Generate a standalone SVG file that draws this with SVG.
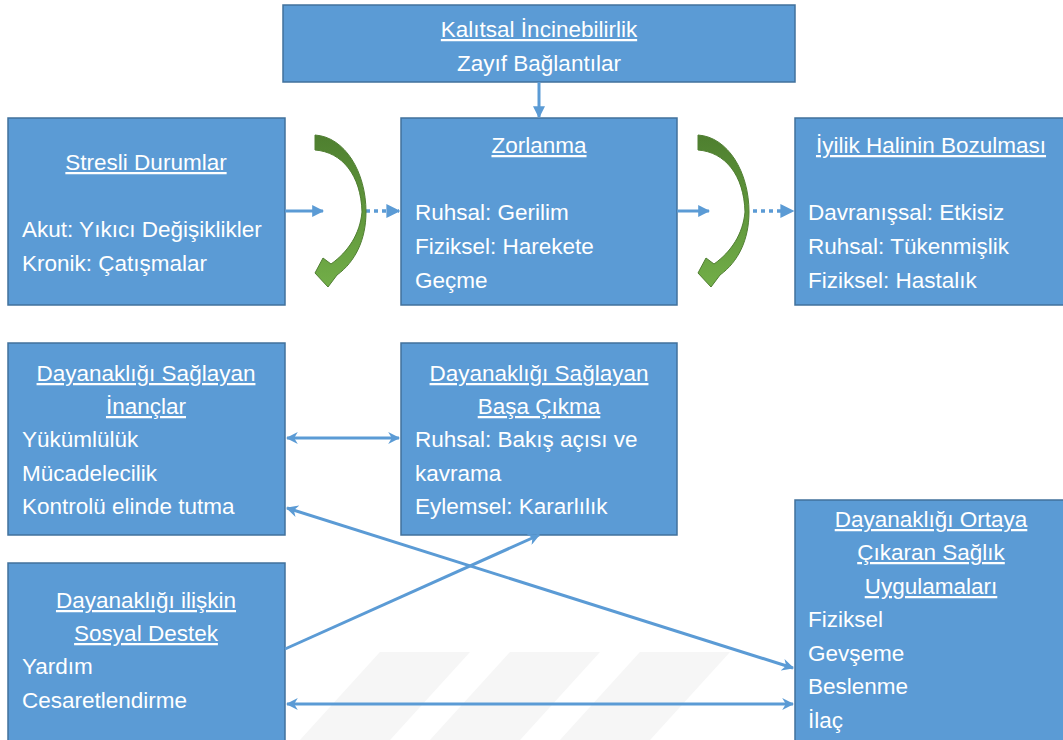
<svg xmlns="http://www.w3.org/2000/svg" width="1063" height="740" viewBox="0 0 1063 740">
<defs>
<style>
.box{fill:#5B9BD5;stroke:#41719C;stroke-width:1.5}
.t{font-family:"Liberation Sans",Arial,sans-serif;font-size:22.5px;fill:#fff}
.c{text-anchor:middle}
.u{text-decoration:underline}
.ln{stroke:#5B9BD5;stroke-width:3;fill:none}
.dot{stroke:#5B9BD5;stroke-width:3.5;fill:none;stroke-dasharray:4 4}
</style>
<marker id="ah" viewBox="0 0 10 10" refX="9" refY="5" markerWidth="4" markerHeight="4" orient="auto-start-reverse" markerUnits="strokeWidth">
<path d="M0,0 L10,5 L0,10 L3,5 z" fill="#5B9BD5"/>
</marker>
<marker id="tri" viewBox="0 0 10 10" refX="9" refY="5" markerWidth="4" markerHeight="4" orient="auto" markerUnits="strokeWidth">
<path d="M0,0 L10,5 L0,10 z" fill="#5B9BD5"/>
</marker>
<linearGradient id="gr" x1="0" y1="0" x2="0" y2="1">
<stop offset="0" stop-color="#4E7F2F"/>
<stop offset="1" stop-color="#72AE48"/>
</linearGradient>
<path id="curv" d="M315,135 C345,137 366,172 366,212 C366,240 355,262 337,275 L328,287 L315,273 L323,258 L331,264 C348,252 360,234 362,212 C361,175 342,152 315,150 Z" fill="url(#gr)" stroke="#507E32" stroke-width="1"/>
</defs>
<rect width="1063" height="740" fill="#fff"/>
<g id="watermark" fill="#000" opacity="0.03">
<polygon points="380,652 470,652 390,740 300,740"/>
<polygon points="510,652 600,652 520,740 430,740"/>
<polygon points="640,652 730,652 650,740 560,740"/>
</g>

<g id="n-kalitsal">
<rect class="box" x="283" y="5" width="512" height="77"/>
<text class="t c u" x="539" y="37">Kalıtsal İncinebilirlik</text>
<text class="t c" x="539" y="71">Zayıf Bağlantılar</text>
</g>
<g id="n-stresli">
<rect class="box" x="8" y="118" width="277" height="187"/>
<text class="t c u" x="146" y="170">Stresli Durumlar</text>
<text class="t" x="22" y="237">Akut: Yıkıcı Değişiklikler</text>
<text class="t" x="22" y="271">Kronik: Çatışmalar</text>
</g>
<g id="n-zorlanma">
<rect class="box" x="401" y="118" width="276" height="187"/>
<text class="t c u" x="539" y="153">Zorlanma</text>
<text class="t" x="415" y="220">Ruhsal: Gerilim</text>
<text class="t" x="415" y="254">Fiziksel: Harekete</text>
<text class="t" x="415" y="288">Geçme</text>
</g>
<g id="n-iyilik">
<rect class="box" x="795" y="118" width="272" height="187"/>
<text class="t c u" x="931" y="153">İyilik Halinin Bozulması</text>
<text class="t" x="808" y="220">Davranışsal: Etkisiz</text>
<text class="t" x="808" y="254">Ruhsal: Tükenmişlik</text>
<text class="t" x="808" y="288">Fiziksel: Hastalık</text>
</g>
<g id="n-inanclar">
<rect class="box" x="8" y="343" width="277" height="192"/>
<text class="t c u" x="146" y="381">Dayanaklığı Sağlayan</text>
<text class="t c u" x="146" y="414">İnançlar</text>
<text class="t" x="22" y="447">Yükümlülük</text>
<text class="t" x="22" y="481">Mücadelecilik</text>
<text class="t" x="22" y="514">Kontrolü elinde tutma</text>
</g>
<g id="n-basa">
<rect class="box" x="401" y="343" width="276" height="192"/>
<text class="t c u" x="539" y="381">Dayanaklığı Sağlayan</text>
<text class="t c u" x="539" y="414">Başa Çıkma</text>
<text class="t" x="415" y="447">Ruhsal: Bakış açısı ve</text>
<text class="t" x="415" y="481">kavrama</text>
<text class="t" x="415" y="514">Eylemsel: Kararlılık</text>
</g>
<g id="n-sosyal">
<rect class="box" x="8" y="563" width="277" height="182"/>
<text class="t c u" x="146" y="608">Dayanaklığı ilişkin</text>
<text class="t c u" x="146" y="641">Sosyal Destek</text>
<text class="t" x="22" y="674">Yardım</text>
<text class="t" x="22" y="708">Cesaretlendirme</text>
</g>
<g id="n-saglik">
<rect class="box" x="795" y="500" width="272" height="245"/>
<text class="t c u" x="931" y="527">Dayanaklığı Ortaya</text>
<text class="t c u" x="931" y="560">Çıkaran Sağlık</text>
<text class="t c u" x="931" y="594">Uygulamaları</text>
<text class="t" x="808" y="627">Fiziksel</text>
<text class="t" x="808" y="661">Gevşeme</text>
<text class="t" x="808" y="694">Beslenme</text>
<text class="t" x="808" y="728">İlaç</text>
</g>

<g id="connectors">
<line class="ln" x1="539" y1="82" x2="539" y2="117" stroke-width="2" marker-end="url(#tri)"/>
<line class="ln" x1="285" y1="211" x2="323" y2="211" marker-end="url(#tri)"/>
<line class="dot" x1="366" y1="211" x2="399" y2="211" marker-end="url(#tri)"/>
<line class="ln" x1="677" y1="211" x2="709" y2="211" marker-end="url(#tri)"/>
<line class="dot" x1="753" y1="211" x2="793" y2="211" marker-end="url(#tri)"/>
<line class="ln" x1="287" y1="438" x2="399" y2="438" marker-start="url(#ah)" marker-end="url(#ah)"/>
<line class="ln" x1="287" y1="704" x2="793" y2="704" marker-start="url(#ah)" marker-end="url(#ah)"/>
<line class="ln" x1="287" y1="508" x2="793" y2="668" marker-start="url(#ah)" marker-end="url(#ah)"/>
<line class="ln" x1="285" y1="649" x2="539" y2="535" marker-end="url(#ah)"/>
<use href="#curv"/>
<use href="#curv" transform="translate(383,0)"/>
</g>
</svg>
